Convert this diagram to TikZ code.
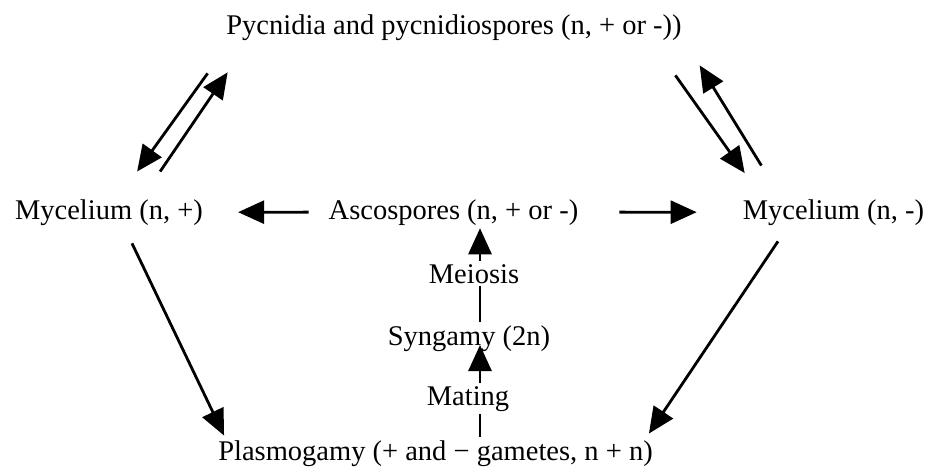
\documentclass[tikz,border=0pt]{standalone}
\usepackage{fontspec}
\setmainfont{Liberation Serif}
\usepackage{tikz}
\usetikzlibrary{arrows.meta}

\begin{document}
\begin{tikzpicture}[x=1pt, y=-1pt]
    \tikzstyle{stage}=[inner sep=3pt, anchor=base,
            font=\fontsize{28.5}{34}\selectfont]
    \tikzstyle{link}=[line width=2.8pt]
    \tikzstyle{arr}=[line width=2.8pt, -{Triangle[length=26pt, width=23pt]}]

    \useasboundingbox (0,0) rectangle (928,473);

        % generations
        \node[stage] (pyc) at (454,35) {Pycnidia and pycnidiospores (n, + or -))};
        \node[stage] (mycp) at (109,219) {Mycelium (n, +)};
        \node[stage] (asco) at (453.5,219) {Ascospores (n, + or -)};
        \node[stage] (mycm) at (833.5,219) {Mycelium (n, -)};
        \node[stage] (meio) at (474,283) {Meiosis};
        \node[stage] (syng) at (469,345) {Syngamy (2n)};
        \node[stage] (mati) at (468,405) {Mating};
        \node[stage] (plas) at (435.5,460) {Plasmogamy (+ and − gametes, n + n)};

        \coordinate (axis) at (480,0);

        % central column
        \draw[link] (plas.north -| axis) -- (mati.south -| axis);
        \draw[arr] (mati.north -| axis) -- (syng.base -| axis);
        \draw[link] (syng.north -| axis) -- (meio.south -| axis);
        \draw[arr] (meio.north -| axis) -- (asco.south -| axis);

        % ascospores to both mycelia
        \draw[arr] ([xshift=-17]asco.west) -- ([xshift=32]mycp.east);
        \draw[arr] ([xshift=38]asco.east) -- ([xshift=-43]mycm.west);

        % asexual cycle
        \draw[arr] ([shift={(-15.5,29)}]pyc.south west)
            -- ([shift={(-69,-24.5)}]mycp.north east);
        \draw[arr] ([shift={(-46,-24.5)}]mycp.north east)
            -- ([shift={(4.5,28)}]pyc.south west);
        \draw[arr] ([shift={(-9.5,31)}]pyc.south east)
            -- ([shift={(5,-23)}]mycm.north west);
        \draw[arr] ([shift={(21.7,-30.5)}]mycm.north west)
            -- ([shift={(14.8,21)}]pyc.south east);

        % mycelia to plasmogamy
        \draw[arr] ([shift={(23,15)}]mycp.south)
            -- ([shift={(9,-1.5)}]plas.north west);
        \draw[arr] ([shift={(-55.5,13)}]mycm.south)
            -- ([shift={(-7,-3.5)}]plas.north east);
\end{tikzpicture}
\end{document}
